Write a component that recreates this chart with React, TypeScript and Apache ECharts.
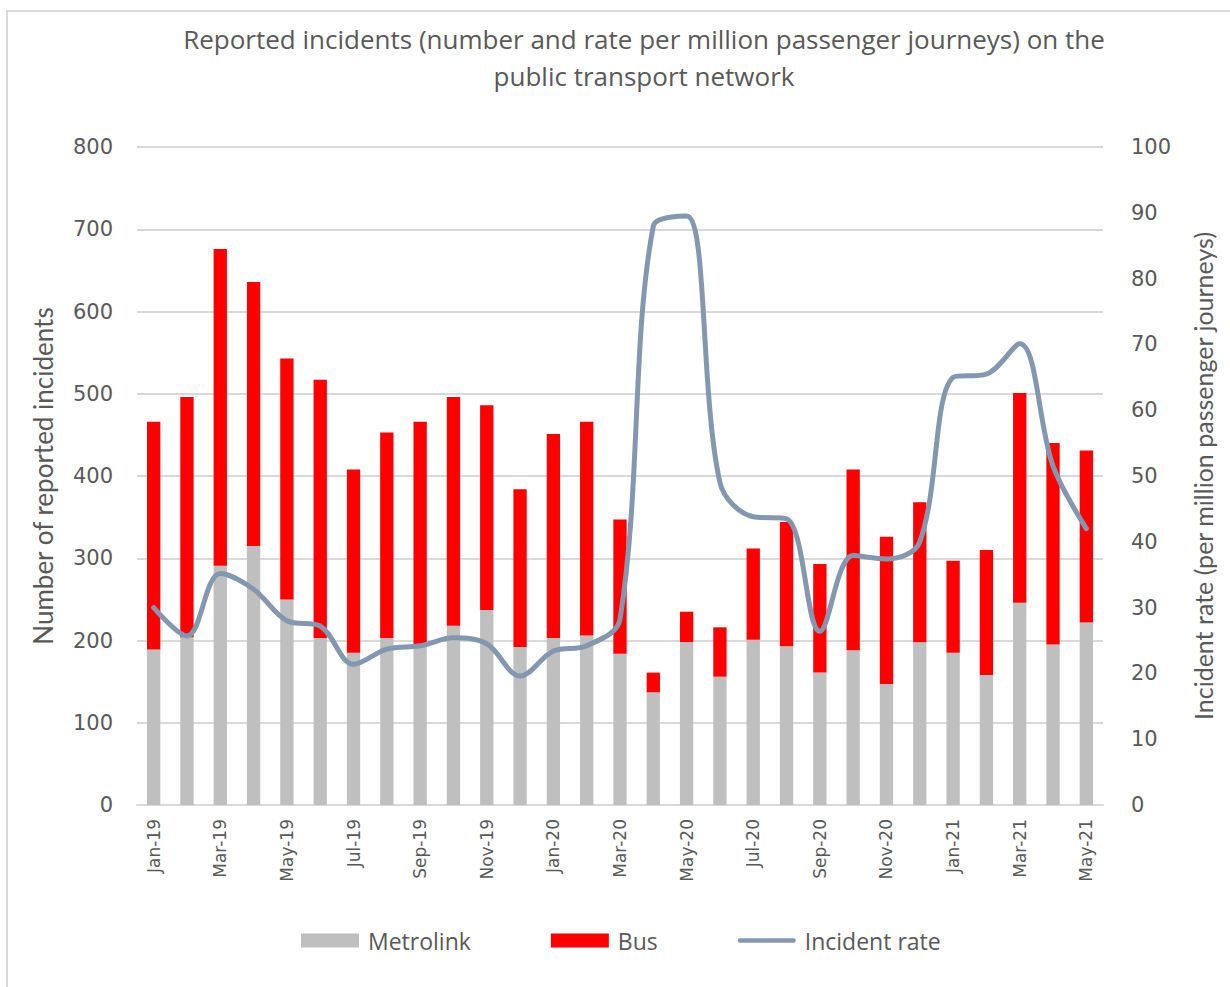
import React, { useEffect, useRef } from "react";
import * as echarts from "echarts";

const categories = [
  "Jan-19","Feb-19","Mar-19","Apr-19","May-19","Jun-19","Jul-19","Aug-19","Sep-19","Oct-19","Nov-19","Dec-19",
  "Jan-20","Feb-20","Mar-20","Apr-20","May-20","Jun-20","Jul-20","Aug-20","Sep-20","Oct-20","Nov-20","Dec-20",
  "Jan-21","Feb-21","Mar-21","Apr-21","May-21",
];
const metrolink = [189,204,291,315,250,203,185,203,192,218,237,192,203,206,184,137,198,156,201,193,161,188,147,198,185,158,246,195,222];
const bus = [277,292,385,321,293,314,223,250,274,278,249,192,248,260,163,24,37,60,111,151,132,220,179,170,112,152,255,245,209];
const incidentRate = [30,25.7,35.2,32.8,28,27.2,21.4,23.7,24.2,25.4,24.5,19.6,23.4,24.2,28.2,88,89.5,49,43.8,43.5,26.4,37.9,37.4,40,65,65.5,70.1,51.5,42];
const leftTicks = { min: 0, max: 800, interval: 100 };
const rightTicks = { min: 0, max: 100, interval: 10 };

const TXT = "#595959";
const GRID = "#d9d9d9";

export default function App() {
  const ref = useRef<HTMLDivElement>(null);
  useEffect(() => {
    document.body.style.margin = "0";
    const chart = echarts.init(ref.current!, null, { renderer: "svg" });
    const titleStyle = { color: TXT, fontSize: 26, fontWeight: "normal", fontFamily: "Open Sans", lineHeight: 32 };
    chart.setOption({
      animation: false,
      backgroundColor: "#ffffff",
      title: [
        {
          text: "Reported incidents (number and rate per million passenger journeys) on the",
          left: 644,
          textAlign: "center",
          top: 23,
          padding: 0,
          textStyle: titleStyle,
        },
        {
          text: "public transport network",
          left: 644,
          textAlign: "center",
          top: 60,
          padding: 0,
          textStyle: titleStyle,
        },
      ],
      graphic: [
        {
          type: "rect",
          shape: { x: 7, y: 11, width: 1260, height: 1010 },
          style: { fill: "none", stroke: GRID, lineWidth: 2 },
          silent: true,
        },
      ],
      legend: {
        bottom: 30,
        left: 296,
        itemWidth: 58,
        itemHeight: 14,
        itemGap: 80,
        textStyle: { color: TXT, fontSize: 23, fontFamily: "Open Sans", padding: [0, 0, 0, 4] },
        data: [
          { name: "Metrolink", icon: "rect" },
          { name: "Bus", icon: "rect" },
          { name: "Incident rate", icon: "path://M2.5,0 L62.5,0 A2.5,2.5 0 0 1 62.5,5 L2.5,5 A2.5,2.5 0 0 1 2.5,0 Z" },
        ],
      },
      grid: { left: 137, right: 127, top: 147, bottom: 182, containLabel: false },
      xAxis: {
        type: "category",
        data: categories,
        axisLine: { lineStyle: { color: GRID, width: 2 } },
        axisTick: { show: false },
        axisLabel: {
          interval: 1,
          rotate: 90,
          color: TXT,
          fontSize: 17,
          fontFamily: "DejaVu Sans",
          margin: 14,
        },
      },
      yAxis: [
        {
          type: "value",
          ...leftTicks,
          name: "Number of reported incidents",
          nameLocation: "middle",
          nameGap: 81,
          nameTextStyle: { color: TXT, fontSize: 26, fontFamily: "Lato" },
          axisLabel: { color: TXT, fontSize: 21, fontFamily: "DejaVu Sans", margin: 24 },
          splitLine: { lineStyle: { color: GRID, width: 2 } },
          axisLine: { show: false },
        },
        {
          type: "value",
          ...rightTicks,
          name: "Incident rate (per million passenger journeys)",
          nameLocation: "middle",
          nameGap: 87,
          nameRotate: 90,
          nameTextStyle: { color: TXT, fontSize: 25, fontFamily: "Lato" },
          axisLabel: { color: TXT, fontSize: 21, fontFamily: "DejaVu Sans", margin: 28 },
          splitLine: { show: false },
          axisLine: { show: false },
        },
      ],
      series: [
        {
          name: "Metrolink",
          type: "bar",
          stack: "total",
          data: metrolink,
          barWidth: "40%",
          itemStyle: { color: "#bfbfbf" },
        },
        {
          name: "Bus",
          type: "bar",
          stack: "total",
          data: bus,
          barWidth: "40%",
          itemStyle: { color: "#ff0000" },
        },
        {
          name: "Incident rate",
          type: "line",
          yAxisIndex: 1,
          data: incidentRate,
          smooth: 0.35,
          symbol: "none",
          lineStyle: { color: "#8497b0", width: 5, cap: "round", join: "round" },
          itemStyle: { color: "#8497b0" },
          z: 5,
        },
      ],
    });
    return () => chart.dispose();
  }, []);
  return <div ref={ref} style={{ width: 1230, height: 987 }} />;
}
